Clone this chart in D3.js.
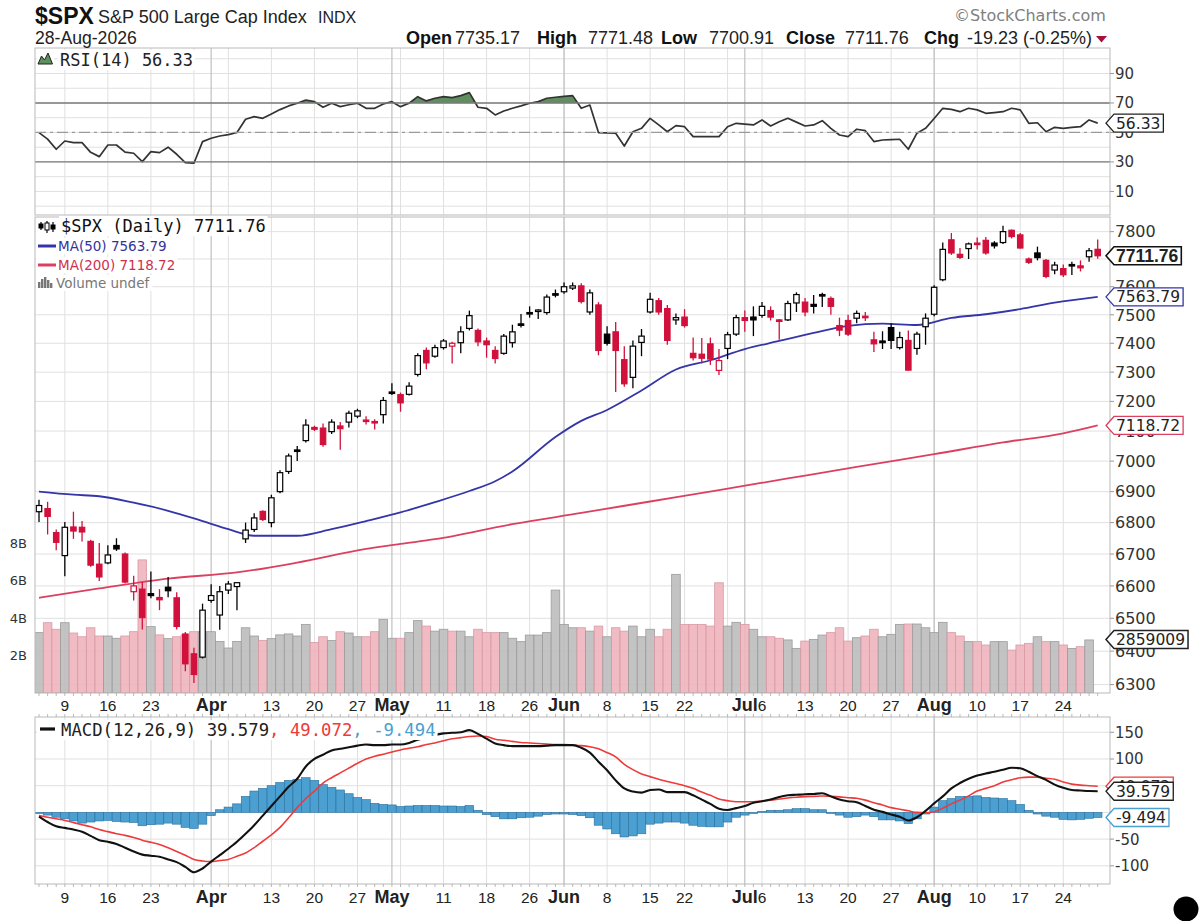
<!DOCTYPE html>
<html><head><meta charset="utf-8">
<script src="https://cdn.jsdelivr.net/npm/d3@7"></script>
<style>body{margin:0;background:#fff}svg{display:block}</style>
</head><body>
<svg id="c" width="1200" height="921"></svg>
<script>
// ---------------- DATA ----------------
const dates = ["03-04","03-05","03-06","03-09","03-10","03-11","03-12","03-13","03-16","03-17","03-18","03-19","03-20","03-23","03-24","03-25","03-26","03-27","03-30","03-31",
"04-01","04-02","04-06","04-07","04-08","04-09","04-10","04-13","04-14","04-15","04-16","04-17","04-20","04-21","04-22","04-23","04-24","04-27","04-28","04-29","04-30",
"05-01","05-04","05-05","05-06","05-07","05-08","05-11","05-12","05-13","05-14","05-15","05-18","05-19","05-20","05-21","05-22","05-26","05-27","05-28","05-29",
"06-01","06-02","06-03","06-04","06-05","06-08","06-09","06-10","06-11","06-12","06-15","06-16","06-17","06-18","06-22","06-23","06-24","06-25","06-26","06-29","06-30",
"07-01","07-02","07-06","07-07","07-08","07-09","07-10","07-13","07-14","07-15","07-16","07-17","07-20","07-21","07-22","07-23","07-24","07-27","07-28","07-29","07-30","07-31",
"08-03","08-04","08-05","08-06","08-07","08-10","08-11","08-12","08-13","08-14","08-17","08-18","08-19","08-20","08-21","08-24","08-25","08-26","08-27","08-28"];

const open = [6835,6845,6768,6695,6786,6785,6740,6668,6672,6727,
6700,6582,6590,6576,6564,6596,6563,6452,6392,6382,
6555,6510,6587,6598,6748,6778,6836,6800,6900,6966,
7037,7068,7112,7110,7098,7117,7130,7150,7137,7132,
7155,7232,7223,7224,7292,7375,7355,7385,7390,7402,
7452,7445,7408,7375,7365,7402,7468,7508,7513,7508,
7575,7582,7595,7603,7510,7535,7432,7440,7343,7282,
7403,7510,7550,7522,7482,7492,7365,7362,7398,7306,
7382,7432,7490,7492,7498,7515,7482,7482,7542,7545,
7537,7572,7558,7462,7480,7488,7495,7412,7408,7455,
7385,7410,7382,7458,7502,7625,7770,7717,7738,7758,
7768,7758,7760,7805,7788,7700,7722,7695,7660,7665,
7680,7675,7708,7735.17];
const high = [6874,6867,6778,6802,6835,6805,6745,6735,6728,6750,
6705,6632,6612,6645,6590,6628,6580,6458,6410,6545,
6605,6600,6615,6612,6800,6830,6840,6890,6970,7025,
7050,7140,7118,7125,7140,7130,7168,7175,7150,7140,
7215,7262,7230,7265,7365,7385,7395,7415,7405,7460,
7515,7452,7420,7390,7432,7465,7503,7530,7520,7572,
7590,7615,7615,7612,7590,7545,7460,7475,7390,7410,
7450,7578,7560,7535,7505,7520,7420,7418,7420,7380,
7440,7500,7515,7530,7545,7530,7485,7550,7580,7560,
7570,7578,7565,7490,7500,7515,7510,7440,7442,7470,
7440,7445,7440,7505,7605,7760,7795,7740,7760,7778,
7780,7765,7822,7808,7795,7705,7745,7700,7690,7680,
7690,7695,7740,7771.48];
const low = [6802,6762,6712,6630,6748,6740,6660,6615,6668,6710,
6608,6555,6466,6562,6525,6565,6466,6340,6305,6378,
6548,6465,6575,6525,6735,6770,6805,6785,6895,6958,
7000,7062,7100,7048,7090,7038,7112,7143,7122,7105,
7125,7222,7165,7220,7285,7310,7350,7378,7330,7365,
7445,7390,7350,7330,7360,7385,7455,7490,7485,7500,
7562,7575,7588,7540,7500,7358,7392,7232,7250,7245,
7355,7505,7500,7395,7465,7455,7340,7330,7325,7290,
7345,7425,7440,7425,7490,7480,7412,7478,7510,7495,
7505,7528,7500,7425,7425,7470,7478,7370,7380,7380,
7378,7305,7360,7395,7495,7620,7715,7700,7700,7735,
7715,7738,7755,7775,7738,7682,7695,7630,7645,7635,
7642,7655,7690,7700.91];
const close = [6855,6820,6737,6785,6773,6770,6665,6628,6697,6716,
6612,6600,6502,6570,6557,6585,6475,6362,6330,6525,
6570,6582,6606,6610,6776,6815,6810,6880,6962,7017,
7033,7120,7106,7055,7130,7108,7160,7168,7133,7128,
7203,7227,7195,7252,7357,7332,7385,7408,7400,7440,
7497,7405,7395,7347,7425,7440,7463,7503,7517,7563,
7572,7600,7603,7547,7578,7375,7400,7375,7260,7390,
7425,7555,7510,7410,7490,7462,7350,7348,7345,7340,
7430,7490,7480,7482,7530,7492,7478,7540,7572,7510,
7530,7568,7530,7446,7432,7505,7490,7398,7402,7410,
7420,7307,7432,7488,7598,7735,7722,7706,7755,7753,
7722,7748,7800,7782,7740,7688,7705,7637,7678,7643,
7676,7668,7730,7711.76];
const prevCloseBefore = 6830;

// volume in billions (last day undefined)
const volume = [3.22,3.75,3.4,3.75,3.2,3.0,3.48,3.04,3.04,2.92,
3.04,3.27,7.1,3.54,3.1,2.9,3.0,3.1,3.27,3.27,
3.27,2.75,2.4,2.75,3.48,3.04,2.8,2.9,3.1,3.15,
3.04,3.66,2.7,3.0,2.8,3.27,3.2,3.0,3.0,3.27,
3.93,2.92,2.92,3.22,3.86,3.57,3.3,3.4,3.3,3.3,
3.0,3.4,3.22,3.22,3.22,2.92,2.74,3.09,3.09,3.22,
5.49,3.66,3.48,3.48,3.3,3.57,3.0,3.48,3.3,3.57,
3.0,3.4,3.0,3.4,6.33,3.66,3.66,3.66,3.57,5.88,
3.57,3.77,3.66,3.4,3.0,3.0,2.92,2.83,2.38,2.77,
2.86,3.09,3.22,3.48,2.77,2.95,3.04,3.4,3.0,3.13,
3.66,3.68,3.68,3.48,3.22,3.77,3.22,3.04,2.74,2.74,
2.56,2.74,2.74,2.29,2.56,2.65,3.0,2.74,2.74,2.56,
2.38,2.47,2.83,null];
const volumeTag = 2859009;

const ma50Dates = ["03-04","03-10","03-13","03-19","03-25","03-31","04-06","04-09","04-16","04-22","04-28","05-04","05-08","05-14","05-19","05-21","05-29","06-03","06-08","06-12","06-18","06-25","07-01","07-08","07-14","07-20","07-24","07-30","08-05","08-11","08-17","08-21","08-28"];
const ma50Values = [6900,6890,6885,6864,6838,6805,6779,6758,6758,6779,6805,6833,6866,6902,6934,6966,7080,7134,7171,7237,7309,7341,7380,7408,7436,7461,7469,7464,7489,7502,7520,7543,7563.79];
const ma200Dates = ["03-04","03-13","03-25","04-07","04-16","04-28","05-04","05-08","05-21","06-03","06-15","06-26","07-09","07-21","07-28","08-03","08-13","08-24","08-28"];
const ma200Values = [6563,6592,6623,6642,6673,6716,6732,6747,6795,6831,6868,6905,6943,6981,7004,7023,7062,7092,7118.72];

const rsi = [49.9,45.5,38.6,44.2,43.1,43.1,36.5,33.6,41.5,41.5,
36.6,35.9,30.2,37.0,36.3,40.0,35.2,29.5,29.1,43.8,
46.1,47.6,48.5,50.0,59.0,60.7,59.6,62.5,65.5,68.0,
69.8,72.0,70.9,67.1,69.8,67.5,68.8,69.8,66.4,66.4,
69.3,70.9,67.5,69.8,74.3,71.4,73.2,74.3,73.6,75.0,
77.0,67.1,66.4,61.9,64.6,66.4,68.0,69.8,70.9,73.2,
73.9,74.5,75.0,66.4,68.6,49.9,49.7,49.5,40.8,50.5,
52.8,59.6,55.1,50.5,54.6,53.9,47.2,47.2,47.2,47.2,
53.9,56.2,55.6,55.1,58.5,54.4,57.3,59.6,57.0,54.4,
55.1,58.0,52.8,48.3,47.2,52.2,51.2,43.8,44.9,45.2,
45.4,38.6,49.5,52.8,59.5,66.4,65.7,64.1,66.4,65.3,
63.0,63.5,64.1,66.4,65.3,56.2,56.6,50.5,53.5,52.8,
53.5,53.9,58.5,56.33];

const macd = [-8,-18,-26,-29,-32,-36,-44,-52,-55,-59,
-66,-73,-79,-81,-83,-88,-93,-102,-112,-105,
-92,-80,-68,-55,-40,-24,-6,12,30,48,
63,86,100,108,116,119,122,125,127,126,
126,127,127,130,136,140,145,148,149,150,
154,147,138,129,126,124,124,124,124,125,
126,126,126,121,112,95,79,60,45,39,
37,42,43,38,38,38,32,24,16,7,
4.5,8,12,18,21,24,29,32,33,34,
34.5,36,30,24,21,19,12,5,1,-4,
-8,-15,-9,3,17,30,45,55,63,69,
73,76,80,83.7,82.6,76,68,61,52,46,
42,41,40,39.579];
const signal = [-6,-9,-12,-15,-19,-23,-27,-32,-36,-40,
-43,-47,-52,-56,-60,-66,-73,-80,-88,-91,
-92,-90,-88,-82,-76,-66,-54,-42,-28,-10,
9,26,40,55,65,74,83,92,100,105,
109,113,117,120,123,127,130,134,138,140,
142,143,142,137,135,133,131,130,129,128,
127,127,126,125,123,119,112,104,90,80,
72,67,62,58,54,50,45,38,32,25,
22,20,20,20,21.5,23,25,27,28.5,29.5,
30,30.7,30,29,27.5,26.5,23,18,14,9,
6,3,0,-0.6,1.3,8,16,23,31,40,
45,50,57,61,65,66,66,64,62,57,
53,51,50,49.072];
const hist = [-2,-5,-9,-12,-16,-20,-18,-16,-15,-17,
-18,-19,-25,-23,-22,-20,-22,-28,-30,-22,
-6,5,10,16,30,40,45,50,56,60,
62,65,60,52,47,42,35,28,24,17,
15,14,11,12,13,13,13,12,12,11,
13,4,-4,-8,-12,-12,-10,-9,-7,-4,
-3,-3,-4,-6,-10,-24,-31,-40,-46,-44,
-40,-22,-20,-18,-18,-20,-24,-26,-27,-27,
-18,-9,-5,-2,2,4,4,5,7,7,
5,5,-2,-5,-9,-8,-5,-8,-14,-14,
-16,-21,-12,-3,10,22,26,30,30,31,
28,27,26,22,15,4,-3,-7,-9,-13,
-14,-13,-11,-9.494];

const gridDates = ["03-09","03-16","03-23","03-30","04-06","04-13","04-20","04-27","05-04","05-11","05-18","05-26","06-01","06-08","06-15","06-22","06-29","07-06","07-13","07-20","07-27","08-03","08-10","08-17","08-24"];
const monthDates = ["04-01","05-01","06-01","07-01","08-03"];
const tickDates = ["03-09","03-16","03-23","04-01","04-13","04-20","04-27","05-01","05-11","05-18","05-26","06-01","06-08","06-15","06-22","07-01","07-06","07-13","07-20","07-27","08-03","08-10","08-17","08-24"];
const tickText = ["9","16","23","Apr","13","20","27","May","11","18","26","Jun","8","15","22","Jul","6","13","20","27","Aug","10","17","24"];
const rsiTicks = [10,30,50,70,90];
const priceTicks = [6300,6400,6500,6600,6700,6800,6900,7000,7100,7200,7300,7400,7500,7600,7700,7800];
const volTicks = [2,4,6,8];
const macdTicks = [-100,-50,0,50,100,150];

// ---------------- LAYOUT ----------------
const ARIAL = "Liberation Sans, Arial, Helvetica, sans-serif";
const VERD = "DejaVu Sans, Verdana, sans-serif";
const MONO = "DejaVu Sans Mono, monospace";
const PL = 35, PR = 1110;
const rsiT = 48, rsiB = 215, prT = 217, prB = 693, mT = 717, mB = 884;
const RED = "#d2103c", BLK = "#000";
const BLUE_MA = "#3535a8", RED_MA = "#dc4060";

const svg = d3.select("#c");
const x = d3.scaleBand().domain(dates).range([34.7, 1102]).padding(0);
const bw = x.bandwidth();
const cx = d => x(d) + bw / 2;
const yR = d3.scaleLinear().domain([-6, 107.3]).range([rsiB, rsiT]);
const yP = d3.scaleLog().domain([6275, 7854]).range([prB, prT]);
const yV = d3.scaleLinear().domain([0, 25.39]).range([prB, prT]);
const yM = d3.scaleLinear().domain([-134, 178.6]).range([mB, mT]);

const bars = dates.map((d, i) => {
  const pc = i === 0 ? prevCloseBefore : close[i - 1];
  return {d, o: open[i], h: high[i], l: low[i], c: close[i], v: volume[i],
          up: close[i] >= pc};
});

// tag positions (used to hide axis labels fully covered by a tag)
const tagYs = {
  rsi: [yR(rsi[rsi.length - 1])],
  price: [yP(close[close.length - 1]), yP(ma50Values[ma50Values.length - 1]), yP(ma200Values[ma200Values.length - 1]), yV(volumeTag / 1e6)],
  macd: [yM(signal[signal.length - 1]), yM(macd[macd.length - 1]), yM(hist[hist.length - 1])]
};

// defs / clips
const defs = svg.append("defs");
function clip(id, y0, y1) {
  defs.append("clipPath").attr("id", id).append("rect")
    .attr("x", PL).attr("y", y0).attr("width", PR - PL).attr("height", y1 - y0);
}
clip("cR", rsiT, rsiB); clip("cP", prT, prB); clip("cM", mT, mB);
clip("cR70", rsiT, yR(70)); clip("cR30", yR(30), rsiB);

[[rsiT, rsiB], [prT, prB], [mT, mB]].forEach(([a, b]) => {
  svg.append("rect").attr("x", PL).attr("y", a).attr("width", PR - PL).attr("height", b - a)
    .attr("fill", "#fff");
});

function vgrid(a, b) {
  const g = svg.append("g");
  g.selectAll(".w").data(gridDates).join("line")
    .attr("x1", cx).attr("x2", cx).attr("y1", a).attr("y2", b)
    .attr("stroke", "#e0e0e0").attr("stroke-width", 1);
  g.selectAll(".m").data(monthDates).join("line")
    .attr("x1", cx).attr("x2", cx).attr("y1", a).attr("y2", b)
    .attr("stroke", "#c0c0c0").attr("stroke-width", 1.2);
}
function hgrid(vals, y) {
  svg.append("g").selectAll("line").data(vals).join("line")
    .attr("x1", PL).attr("x2", PR).attr("y1", y).attr("y2", y)
    .attr("stroke", "#e0e0e0").attr("stroke-width", 1);
}
hgrid(d3.range(0, 101, 10), yR); vgrid(rsiT, rsiB);
hgrid(priceTicks, yP); vgrid(prT, prB);
hgrid(macdTicks, yM); vgrid(mT, mB);

// ---------------- RSI ----------------
const rsiLine = d3.line().x((v, i) => cx(dates[i])).y(v => yR(v));
const gR = svg.append("g").attr("clip-path", "url(#cR)");
gR.append("path").datum(rsi).attr("clip-path", "url(#cR70)")
  .attr("d", d3.area().x((v, i) => cx(dates[i])).y0(yR(70)).y1(v => yR(v)))
  .attr("fill", "#5f8f5f");
gR.append("path").datum(rsi).attr("clip-path", "url(#cR30)")
  .attr("d", d3.area().x((v, i) => cx(dates[i])).y0(yR(30)).y1(v => yR(v)))
  .attr("fill", "#b8646e");
[70, 30].forEach(v => svg.append("line").attr("x1", PL).attr("x2", PR)
  .attr("y1", yR(v)).attr("y2", yR(v)).attr("stroke", "#7a7a7a").attr("stroke-width", 1.3));
svg.append("line").attr("x1", PL).attr("x2", PR).attr("y1", yR(50)).attr("y2", yR(50))
  .attr("stroke", "#9a9a9a").attr("stroke-width", 1.2).attr("stroke-dasharray", "11,4,3,4");
gR.append("path").datum(rsi).attr("d", rsiLine).attr("fill", "none")
  .attr("stroke", "#333").attr("stroke-width", 1.7).attr("stroke-linejoin", "round");

// ---------------- PRICE ----------------
const gP = svg.append("g").attr("clip-path", "url(#cP)");
gP.selectAll("rect.vol").data(bars.filter(b => b.v != null)).join("rect")
  .attr("x", b => x(b.d)).attr("width", bw)
  .attr("y", b => yV(b.v)).attr("height", b => yV(0) - yV(b.v))
  .attr("fill", b => b.up ? "#bcbcbc" : "#f0b4bd").attr("fill-opacity", 0.9)
  .attr("stroke", b => b.up ? "#9c9c9c" : "#d99aa5").attr("stroke-width", 0.8);

const maLine = d3.line().curve(d3.curveMonotoneX);
gP.append("path").attr("d", maLine(ma200Dates.map((d, i) => [cx(d), yP(ma200Values[i])])))
  .attr("fill", "none").attr("stroke", RED_MA).attr("stroke-width", 1.8);
gP.append("path").attr("d", maLine(ma50Dates.map((d, i) => [cx(d), yP(ma50Values[i])])))
  .attr("fill", "none").attr("stroke", BLUE_MA).attr("stroke-width", 1.8);

const cg = gP.selectAll("g.c").data(bars).join("g");
cg.append("line").attr("x1", b => cx(b.d)).attr("x2", b => cx(b.d))
  .attr("y1", b => yP(b.h)).attr("y2", b => yP(b.l))
  .attr("stroke", b => b.up ? BLK : RED).attr("stroke-width", 1.3);
const bodyW = 5.4;
cg.append("rect").attr("x", b => cx(b.d) - bodyW / 2).attr("width", bodyW)
  .attr("y", b => yP(Math.max(b.o, b.c)))
  .attr("height", b => Math.max(1.5, yP(Math.min(b.o, b.c)) - yP(Math.max(b.o, b.c))))
  .attr("fill", b => b.c > b.o ? "#fff" : (b.up ? BLK : RED))
  .attr("stroke", b => b.up ? BLK : RED).attr("stroke-width", 1.2);

// ---------------- MACD ----------------
const gM = svg.append("g").attr("clip-path", "url(#cM)");
gM.selectAll("rect").data(hist).join("rect")
  .attr("x", (v, i) => x(dates[i])).attr("width", bw)
  .attr("y", v => Math.min(yM(v), yM(0))).attr("height", v => Math.abs(yM(v) - yM(0)))
  .attr("fill", "#4b9fd1").attr("stroke", "#2a6f9c").attr("stroke-width", 0.6);
const mLine = d3.line().x((v, i) => cx(dates[i])).y(v => yM(v)).curve(d3.curveMonotoneX);
gM.append("path").datum(signal).attr("d", mLine).attr("fill", "none")
  .attr("stroke", "#ee3a3a").attr("stroke-width", 1.6);
gM.append("path").datum(macd).attr("d", mLine).attr("fill", "none")
  .attr("stroke", "#111").attr("stroke-width", 2.1);

[[rsiT, rsiB], [prT, prB], [mT, mB]].forEach(([a, b]) => {
  svg.append("rect").attr("x", PL).attr("y", a).attr("width", PR - PL).attr("height", b - a)
    .attr("fill", "none").attr("stroke", "#b9b9b9").attr("stroke-width", 1);
});

function dayTicks(y, dir) {
  svg.append("g").selectAll("line").data(dates).join("line")
    .attr("x1", cx).attr("x2", cx).attr("y1", y).attr("y2", y + dir * 3)
    .attr("stroke", "#a8a8a8").attr("stroke-width", 0.8);
}
dayTicks(prB, 1); dayTicks(mT, -1); dayTicks(mB, 1);

// ---------------- AXES TEXT ----------------
function rightAxis(vals, y, fs, covers) {
  const g = svg.append("g");
  g.selectAll("line").data(vals).join("line").attr("x1", PR).attr("x2", PR + 4)
    .attr("y1", y).attr("y2", y).attr("stroke", "#999");
  const shown = vals.filter(v => !covers.some(t => Math.abs(t - y(v)) < 5.3));
  g.selectAll("text").data(shown).join("text").attr("x", 1115).attr("y", v => y(v) + fs * 0.36)
    .attr("font-family", VERD).attr("font-size", fs).attr("fill", "#333").text(v => v);
}
rightAxis(rsiTicks, yR, 15, tagYs.rsi);
rightAxis(priceTicks, yP, 16, tagYs.price);
rightAxis(macdTicks, yM, 15, tagYs.macd);
svg.append("g").selectAll("text").data(volTicks).join("text")
  .attr("x", 27).attr("y", v => yV(v) + 4.5).attr("text-anchor", "end")
  .attr("font-family", VERD).attr("font-size", 13).attr("fill", "#333").text(v => v + "B");

[711, 903].forEach(yy => {
  svg.append("g").selectAll("text").data(tickDates).join("text")
    .attr("x", cx).attr("y", yy).attr("text-anchor", "middle")
    .attr("font-family", ARIAL)
    .attr("font-weight", d => monthDates.includes(d) ? "bold" : "normal")
    .attr("font-size", d => monthDates.includes(d) ? 18 : 15.5)
    .attr("fill", "#222").text((d, i) => tickText[i]);
});

// ---------------- TAGS ----------------
function tag(yy, text, stroke, o = {}) {
  const g = svg.append("g");
  const t = g.append("text").attr("x", 1116).attr("y", yy + (o.bold ? 6 : 5.5))
    .attr("font-family", o.bold ? ARIAL : VERD).attr("font-weight", o.bold ? "bold" : "normal")
    .attr("font-size", o.bold ? 17.5 : 15.5).attr("fill", o.color || "#222").text(text);
  const w = t.node().getComputedTextLength();
  const x0 = 1106, x1 = 1116 + w + 3, h = 9;
  g.insert("path", "text")
    .attr("d", `M${x0},${yy} L${x0 + 8},${yy - h} L${x1},${yy - h} L${x1},${yy + h} L${x0 + 8},${yy + h} Z`)
    .attr("fill", "#fff").attr("stroke", stroke).attr("stroke-width", o.sw || 1.3);
}
tag(tagYs.rsi[0], "56.33", "#222");
tag(tagYs.price[0], "7711.76", "#111", {bold: true, sw: 1.6});
tag(tagYs.price[1], "7563.79", BLUE_MA);
tag(tagYs.price[2], "7118.72", RED_MA);
tag(tagYs.price[3], String(volumeTag), "#222", {sw: 1.5});
tag(tagYs.macd[0], "49.072", "#ee3a3a");
tag(tagYs.macd[1], "39.579", "#222");
tag(tagYs.macd[2], "-9.494", "#4b9fd1");

// ---------------- LEGENDS ----------------
function legend(xx, yy, parts, font, fs) {
  const g = svg.append("g");
  const t = g.append("text").attr("x", xx).attr("y", yy).attr("font-family", font).attr("font-size", fs);
  parts.forEach(p => t.append("tspan").attr("fill", p[1]).text(p[0]));
  const bb = t.node().getBBox();
  g.insert("rect", "text").attr("x", bb.x - 2).attr("y", bb.y).attr("width", bb.width + 4)
    .attr("height", bb.height).attr("fill", "#fff");
  return g;
}
svg.append("rect").attr("x", 37).attr("y", 51).attr("width", 17).attr("height", 15).attr("fill", "#fff");
svg.append("path").attr("d", "M38,64 L41.5,56 L44.5,60 L48,53 L52.5,64 Z")
  .attr("fill", "#5f8f5f").attr("stroke", "#222").attr("stroke-width", 1);
legend(60, 66, [["RSI(14) 56.33", "#222"]], MONO, 17);

svg.append("rect").attr("x", 36).attr("y", 220).attr("width", 24).attr("height", 70).attr("fill", "#fff");
[[39, 222, 230, 224, 228], [45, 221, 233, 223, 230], [51, 222, 232, 225, 229]].forEach(([xx, a, b, c, d], k) => {
  svg.append("line").attr("x1", xx + 2).attr("x2", xx + 2).attr("y1", a).attr("y2", b).attr("stroke", "#000").attr("stroke-width", 1.2);
  svg.append("rect").attr("x", xx).attr("y", c).attr("width", 4).attr("height", d - c)
    .attr("fill", k === 1 ? "#fff" : "#000").attr("stroke", "#000").attr("stroke-width", 1);
});
legend(61, 232, [["$SPX (Daily) 7711.76", "#111"]], MONO, 17);
svg.append("line").attr("x1", 38).attr("x2", 57).attr("y1", 246).attr("y2", 246).attr("stroke", BLUE_MA).attr("stroke-width", 3);
legend(58, 251, [["MA(50) 7563.79", "#33339a"]], VERD, 13.5);
svg.append("line").attr("x1", 38).attr("x2", 57).attr("y1", 265).attr("y2", 265).attr("stroke", RED_MA).attr("stroke-width", 3);
legend(58, 270, [["MA(200) 7118.72", "#d0304e"]], VERD, 13.5);
[[38, 282], [41, 279], [44, 277], [47, 280], [50, 283]].forEach(([xx, top]) =>
  svg.append("rect").attr("x", xx).attr("y", top).attr("width", 2.4).attr("height", 288 - top).attr("fill", "#777"));
legend(56, 288, [["Volume undef", "#777"]], VERD, 13.5);

legend(61, 736, [["MACD(12,26,9) 39.579", "#222"], [", 49.072", "#ee3a3a"], [", -9.494", "#4b9fd1"]], MONO, 17.3);
svg.append("rect").attr("x", 37).attr("y", 720).attr("width", 24).attr("height", 18).attr("fill", "#fff");
svg.append("line").attr("x1", 40).attr("x2", 55).attr("y1", 729).attr("y2", 729).attr("stroke", "#111").attr("stroke-width", 3.2);

// ---------------- HEADER ----------------
function ht(xx, yy, s, fs, opts = {}) {
  svg.append("text").attr("x", xx).attr("y", yy).attr("font-family", opts.font || ARIAL)
    .attr("font-size", fs).attr("font-weight", opts.bold ? "bold" : "normal")
    .attr("fill", opts.color || "#111").text(s);
}
ht(35, 23.5, "$SPX", 23, {bold: true});
ht(98, 23, "S&P 500 Large Cap Index", 18, {color: "#222"});
ht(318, 22.5, "INDX", 16, {color: "#222"});
ht(954, 21, "©StockCharts.com", 16, {font: VERD, color: "#808080"});
ht(35, 44, "28-Aug-2026", 17.6, {color: "#222"});
ht(406, 44, "Open", 18, {bold: true});
ht(455, 44, "7735.17", 18, {color: "#222"});
ht(537, 44, "High", 18, {bold: true});
ht(588, 44, "7771.48", 18, {color: "#222"});
ht(661, 44, "Low", 18, {bold: true});
ht(709, 44, "7700.91", 18, {color: "#222"});
ht(786, 44, "Close", 18, {bold: true});
ht(845, 44, "7711.76", 18, {color: "#222"});
ht(924, 44, "Chg", 18, {bold: true});
ht(967, 44, "-19.23 (-0.25%)", 18, {color: "#222"});
svg.append("path").attr("d", "M1096,36 L1107,36 L1101.5,42.5 Z").attr("fill", "#a3123a");

svg.append("circle").attr("cx", 1186).attr("cy", 909).attr("r", 12.5).attr("fill", "#000");
</script>
</body></html>
